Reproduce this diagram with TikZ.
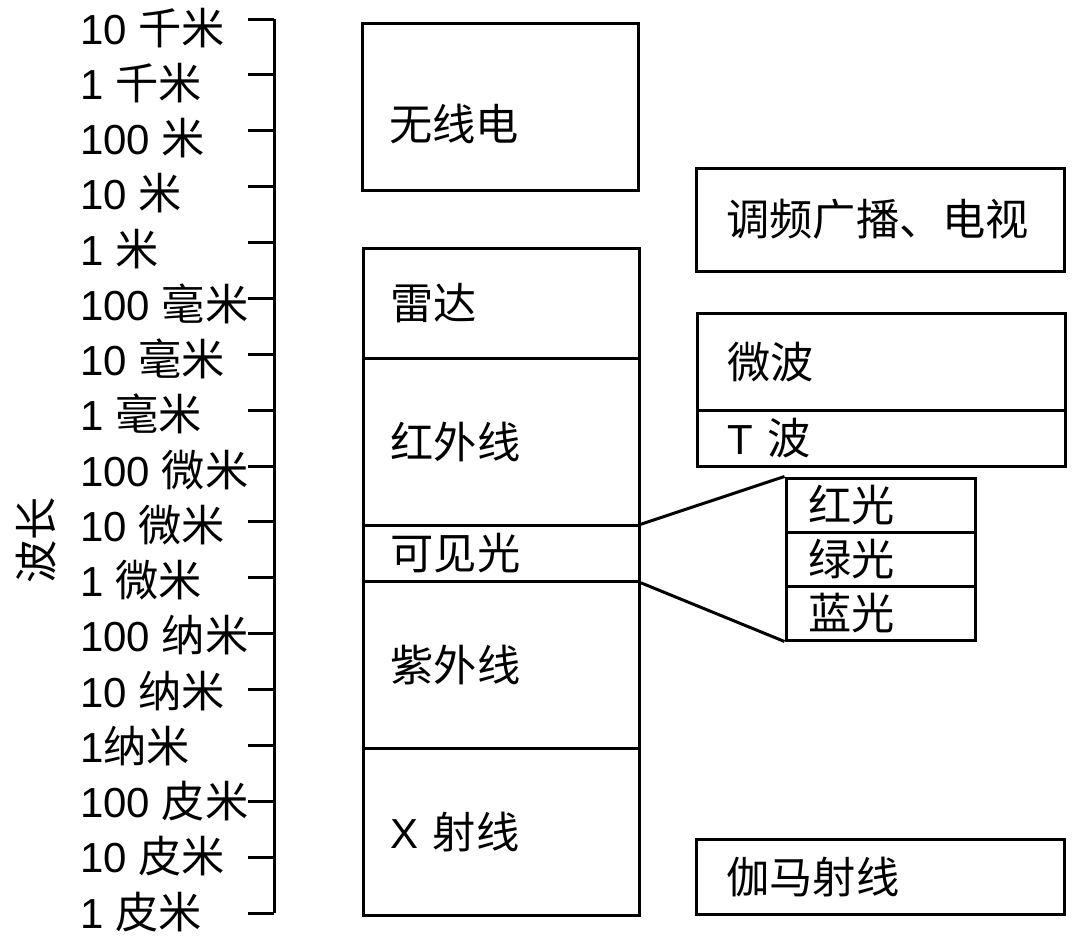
\documentclass[tikz,border=0pt]{standalone}
\usepackage{fontspec}
\setmainfont{Liberation Sans}
\newfontfamily\cjk[Scale=1.03]{Noto Sans CJK SC}
\usetikzlibrary{matrix,positioning}
\newcommand{\bigtext}{\fontsize{42pt}{50pt}\selectfont}

\begin{document}
\begin{tikzpicture}[x=1pt, y=-1pt, font=\bigtext,
table/.style={matrix of nodes, inner sep=0pt, column sep=-\pgflinewidth, row sep=-\pgflinewidth, line width=2.5pt, anchor=north west, nodes={draw, anchor=center, align=left, inner ysep=0pt, font=\bigtext\cjk}},
box/.style={draw, line width=2.5pt, align=left, inner ysep=0pt, anchor=north west, font=\bigtext\cjk},
tick/.style={line width=3pt},
scalelabel/.style={anchor=base west, inner sep=0pt}]

\useasboundingbox (0,0) rectangle (1080,940);

% wavelength scale
\coordinate (axtop) at (274,19);
\coordinate (axbot) at (274,913);
\draw[tick] (axtop) -- (axbot);
\foreach \i in {0,...,16} {
    \coordinate (t\i) at (274,19+55.875*\i);
    \draw[tick] (t\i) -- ++(-26,0);
}
\foreach \lbl [count=\i from 0] in {{10 \cjk 千米}, {1 \cjk 千米}, {100 \cjk 米}, {10 \cjk 米}, {1 \cjk 米}, {100 \cjk 毫米}, {10 \cjk 毫米}, {1 \cjk 毫米}, {100 \cjk 微米}, {10 \cjk 微米}, {1 \cjk 微米}, {100 \cjk 纳米}, {10 \cjk 纳米}, {1\cjk 纳米}, {100 \cjk 皮米}, {10 \cjk 皮米}, {1 \cjk 皮米}}
    \node[scalelabel] (l\i) at (80,44+55.25*\i) {\lbl};
\node[rotate=90, font=\bigtext\cjk] (wavelength) at (36,540) {波长};

% spectrum column
\node[box, minimum height=167pt, text width=222pt, inner xsep=27pt, text height=70pt, text depth=3pt] (radio) at (361,22) {无线电};

\matrix(spectrum) [table, nodes={text width=222pt, inner xsep=27pt}, row 1/.style={nodes={minimum height=110pt}}, row 2/.style={nodes={minimum height=167pt}}, row 3/.style={nodes={minimum height=56pt}}, row 4/.style={nodes={minimum height=167pt}}, row 5/.style={nodes={minimum height=167pt}}] at (361,246) {
    雷达 \\ 红外线 \\ 可见光 \\ 紫外线 \\ {\rmfamily X} 射线 \\};

% uses
\node[box, minimum height=103pt, text width=308pt, inner xsep=30pt] (fmtv) at (695,167) {调频广播、电视};

\matrix(micro) [table, nodes={text width=308pt, inner xsep=30pt}, row 1/.style={nodes={minimum height=97pt}}, row 2/.style={nodes={minimum height=56pt}}] at (695,311) {
    微波 \\ {\rmfamily T} 波 \\};

\matrix(colour) [table, line width=3pt, nodes={text width=145pt, inner xsep=22pt, minimum height=54pt}] at (783,475) {
    红光 \\ 绿光 \\ 蓝光 \\};

\node[box, minimum height=75pt, text width=308pt, inner xsep=30pt] (gamma) at (695,838) {伽马射线};

\draw[line width=3pt] (spectrum-3-1.north east) -- (colour-1-1.north west);
\draw[line width=3pt] (spectrum-3-1.south east) -- (colour-3-1.south west);

\end{tikzpicture}
\end{document}
